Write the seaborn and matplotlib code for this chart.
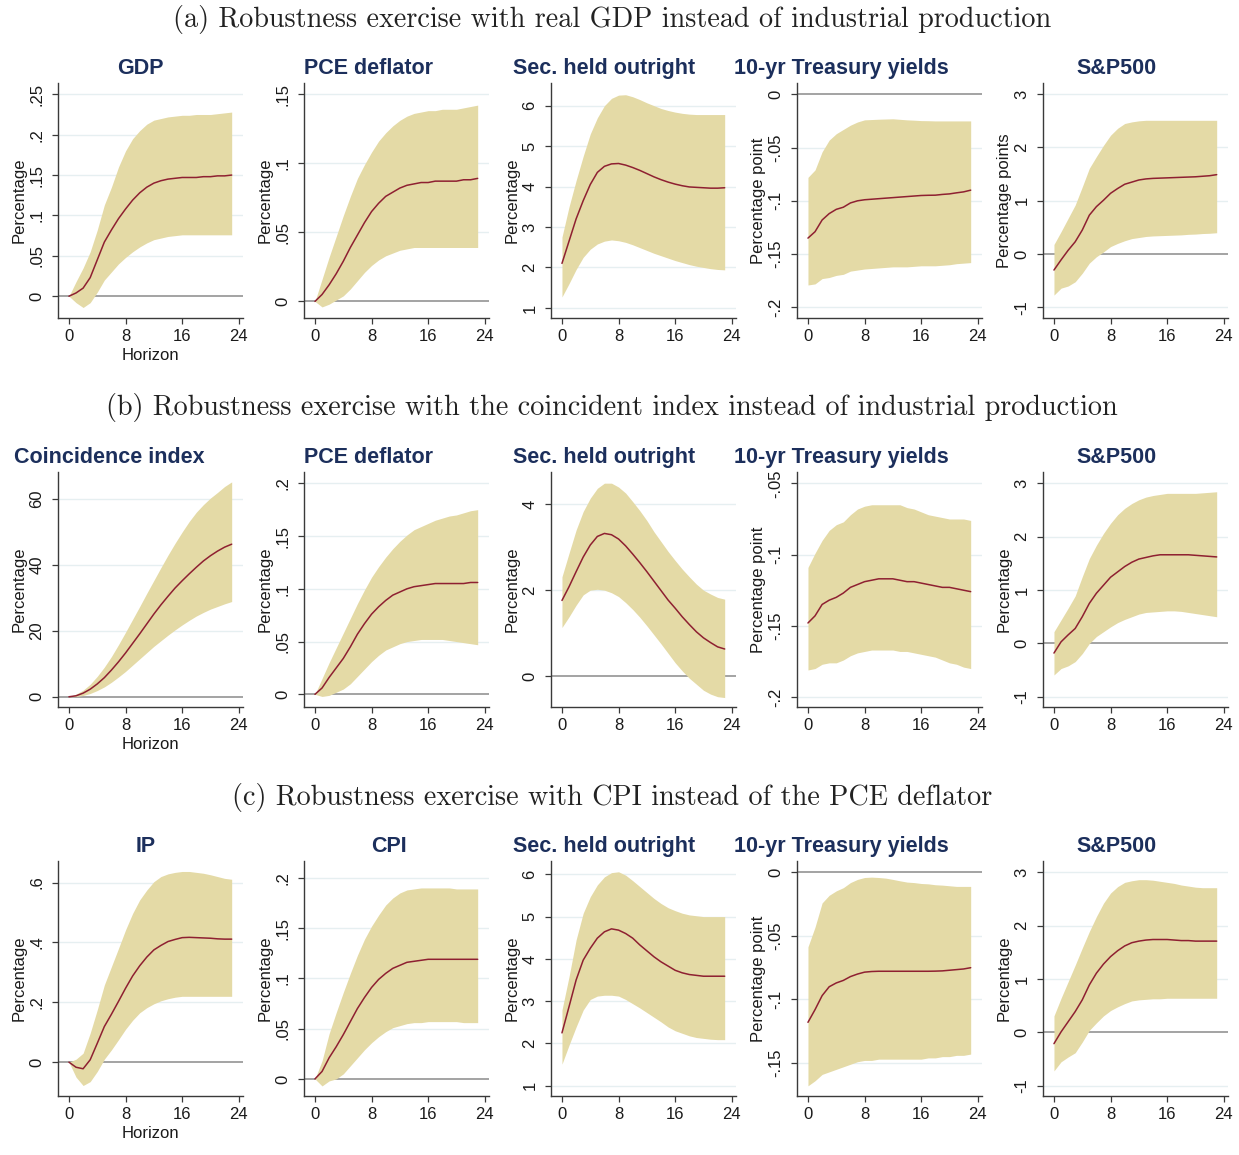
import matplotlib
matplotlib.use("Agg")
import matplotlib.pyplot as plt
import seaborn as sns
import pandas as pd

# ---------------- data ----------------
horizon = list(range(24))
x_ticks = [0, 8, 16, 24]

section_titles = [
    "(a) Robustness exercise with real GDP instead of industrial production",
    "(b) Robustness exercise with the coincident index instead of industrial production",
    "(c) Robustness exercise with CPI instead of the PCE deflator",
]
panel_titles = [
    ["GDP", "PCE deflator", "Sec. held outright", "10-yr Treasury yields", "S&P500"],
    ["Coincidence index", "PCE deflator", "Sec. held outright", "10-yr Treasury yields", "S&P500"],
    ["IP", "CPI", "Sec. held outright", "10-yr Treasury yields", "S&P500"],
]
y_titles = [
    ["Percentage", "Percentage", "Percentage", "Percentage point", "Percentage points"],
    ["Percentage", "Percentage", "Percentage", "Percentage point", "Percentage"],
    ["Percentage", "Percentage", "Percentage", "Percentage point", "Percentage"],
]
x_title = "Horizon"

# (a) row
a1_mid = [0, 0.004, 0.01, 0.023, 0.045, 0.067, 0.082, 0.096, 0.108, 0.119, 0.128, 0.135, 0.140, 0.143, 0.145, 0.146, 0.147, 0.147, 0.147, 0.148, 0.148, 0.149, 0.149, 0.150]
a1_hi = [0, 0.018, 0.035, 0.055, 0.082, 0.113, 0.135, 0.160, 0.180, 0.195, 0.205, 0.213, 0.218, 0.220, 0.222, 0.223, 0.224, 0.224, 0.225, 0.225, 0.225, 0.226, 0.227, 0.228]
a1_lo = [0, -0.008, -0.014, -0.008, 0.005, 0.020, 0.030, 0.040, 0.048, 0.055, 0.061, 0.066, 0.070, 0.072, 0.074, 0.075, 0.076, 0.076, 0.076, 0.076, 0.076, 0.076, 0.076, 0.076]

a2_mid = [0, 0.005, 0.012, 0.020, 0.029, 0.039, 0.048, 0.057, 0.065, 0.071, 0.076, 0.079, 0.082, 0.084, 0.085, 0.086, 0.086, 0.087, 0.087, 0.087, 0.087, 0.088, 0.088, 0.089]
a2_hi = [0, 0.016, 0.032, 0.047, 0.062, 0.076, 0.089, 0.099, 0.108, 0.116, 0.122, 0.127, 0.131, 0.134, 0.136, 0.137, 0.138, 0.138, 0.139, 0.139, 0.139, 0.140, 0.141, 0.142]
a2_lo = [0, -0.004, -0.002, 0.001, 0.004, 0.009, 0.015, 0.021, 0.026, 0.030, 0.033, 0.035, 0.037, 0.038, 0.039, 0.039, 0.039, 0.039, 0.039, 0.039, 0.039, 0.039, 0.039, 0.039]

a3_mid = [2.10, 2.65, 3.20, 3.65, 4.05, 4.35, 4.50, 4.56, 4.57, 4.53, 4.47, 4.40, 4.32, 4.24, 4.17, 4.11, 4.06, 4.02, 3.99, 3.98, 3.97, 3.96, 3.96, 3.97]
a3_hi = [2.75, 3.50, 4.15, 4.75, 5.30, 5.70, 6.00, 6.18, 6.26, 6.27, 6.22, 6.15, 6.07, 6.00, 5.93, 5.88, 5.84, 5.81, 5.79, 5.78, 5.78, 5.78, 5.78, 5.78]
a3_lo = [1.27, 1.60, 1.95, 2.25, 2.45, 2.58, 2.65, 2.68, 2.66, 2.62, 2.56, 2.49, 2.42, 2.35, 2.29, 2.23, 2.17, 2.12, 2.07, 2.03, 2.00, 1.97, 1.95, 1.94]

a4_mid = [-0.135, -0.129, -0.118, -0.112, -0.108, -0.106, -0.102, -0.100, -0.099, -0.0985, -0.098, -0.0975, -0.097, -0.0965, -0.096, -0.0955, -0.095, -0.0948, -0.0947, -0.094, -0.0935, -0.0925, -0.0916, -0.090]
a4_hi = [-0.078, -0.071, -0.054, -0.043, -0.037, -0.033, -0.029, -0.026, -0.024, -0.0237, -0.0234, -0.0232, -0.023, -0.0235, -0.024, -0.0243, -0.0247, -0.0248, -0.025, -0.025, -0.025, -0.025, -0.025, -0.025]
a4_lo = [-0.179, -0.178, -0.173, -0.172, -0.170, -0.169, -0.166, -0.165, -0.164, -0.1635, -0.163, -0.1625, -0.162, -0.162, -0.162, -0.1615, -0.161, -0.161, -0.161, -0.1605, -0.160, -0.159, -0.1585, -0.158]

a5_mid = [-0.30, -0.11, 0.07, 0.23, 0.45, 0.73, 0.89, 1.01, 1.14, 1.23, 1.31, 1.35, 1.39, 1.41, 1.42, 1.425, 1.43, 1.435, 1.44, 1.445, 1.45, 1.46, 1.47, 1.49]
a5_hi = [0.18, 0.42, 0.67, 0.92, 1.26, 1.61, 1.83, 2.04, 2.23, 2.36, 2.45, 2.48, 2.50, 2.51, 2.51, 2.51, 2.51, 2.51, 2.51, 2.51, 2.51, 2.51, 2.51, 2.51]
a5_lo = [-0.77, -0.64, -0.60, -0.52, -0.36, -0.17, -0.05, 0.04, 0.14, 0.20, 0.25, 0.29, 0.31, 0.33, 0.34, 0.345, 0.35, 0.355, 0.36, 0.37, 0.375, 0.385, 0.39, 0.40]

# (b) row
b1_mid = [0, 0.3, 1.1, 2.3, 3.9, 5.8, 8.1, 10.6, 13.3, 16.2, 19.1, 22.1, 25.1, 27.9, 30.5, 33.0, 35.2, 37.3, 39.3, 41.2, 42.8, 44.2, 45.4, 46.3]
b1_hi = [0, 0.8, 2.0, 3.8, 6.2, 9.0, 12.2, 15.8, 19.6, 23.5, 27.4, 31.4, 35.3, 39.2, 43.0, 46.6, 50.0, 53.2, 56.0, 58.3, 60.3, 62.0, 63.8, 65.2]
b1_lo = [0, 0.1, 0.4, 1.0, 1.9, 3.0, 4.4, 6.0, 7.7, 9.6, 11.5, 13.4, 15.3, 17.0, 18.7, 20.3, 21.8, 23.2, 24.5, 25.6, 26.6, 27.4, 28.2, 28.9]

b2_mid = [0, 0.006, 0.016, 0.025, 0.034, 0.045, 0.057, 0.067, 0.076, 0.083, 0.089, 0.094, 0.097, 0.100, 0.102, 0.103, 0.104, 0.105, 0.105, 0.105, 0.105, 0.105, 0.106, 0.106]
b2_hi = [0, 0.015, 0.030, 0.044, 0.058, 0.072, 0.086, 0.099, 0.111, 0.121, 0.130, 0.138, 0.145, 0.151, 0.156, 0.159, 0.162, 0.165, 0.167, 0.169, 0.170, 0.172, 0.174, 0.175]
b2_lo = [0, -0.002, -0.001, 0.002, 0.005, 0.010, 0.017, 0.024, 0.031, 0.037, 0.042, 0.045, 0.048, 0.050, 0.051, 0.052, 0.052, 0.052, 0.052, 0.051, 0.050, 0.049, 0.048, 0.047]

b3_mid = [1.76, 2.08, 2.43, 2.77, 3.05, 3.25, 3.32, 3.29, 3.19, 3.03, 2.84, 2.64, 2.43, 2.21, 1.99, 1.77, 1.58, 1.38, 1.20, 1.03, 0.89, 0.78, 0.68, 0.63]
b3_hi = [2.31, 2.86, 3.40, 3.83, 4.14, 4.37, 4.49, 4.49, 4.40, 4.26, 4.06, 3.85, 3.62, 3.36, 3.13, 2.90, 2.69, 2.49, 2.31, 2.14, 2.00, 1.91, 1.83, 1.79]
b3_lo = [1.13, 1.38, 1.65, 1.89, 2.00, 2.02, 2.00, 1.94, 1.85, 1.71, 1.55, 1.37, 1.17, 0.96, 0.75, 0.53, 0.31, 0.12, -0.05, -0.19, -0.33, -0.42, -0.48, -0.50]

b4_mid = [-0.148, -0.143, -0.135, -0.132, -0.130, -0.127, -0.123, -0.121, -0.119, -0.118, -0.117, -0.117, -0.117, -0.118, -0.119, -0.119, -0.120, -0.121, -0.122, -0.123, -0.123, -0.124, -0.125, -0.126]
b4_hi = [-0.109, -0.099, -0.090, -0.083, -0.079, -0.077, -0.072, -0.068, -0.066, -0.065, -0.065, -0.065, -0.065, -0.065, -0.067, -0.068, -0.070, -0.072, -0.073, -0.074, -0.075, -0.075, -0.075, -0.076]
b4_lo = [-0.181, -0.180, -0.177, -0.176, -0.176, -0.174, -0.171, -0.169, -0.168, -0.167, -0.167, -0.167, -0.167, -0.168, -0.168, -0.169, -0.170, -0.171, -0.172, -0.174, -0.176, -0.177, -0.179, -0.180]

b5_mid = [-0.18, 0.03, 0.16, 0.28, 0.50, 0.75, 0.94, 1.09, 1.24, 1.34, 1.44, 1.52, 1.58, 1.61, 1.64, 1.66, 1.66, 1.66, 1.66, 1.66, 1.65, 1.64, 1.63, 1.62]
b5_hi = [0.22, 0.44, 0.66, 0.89, 1.25, 1.59, 1.84, 2.06, 2.25, 2.41, 2.53, 2.62, 2.69, 2.74, 2.77, 2.79, 2.81, 2.81, 2.81, 2.81, 2.81, 2.82, 2.83, 2.84]
b5_lo = [-0.59, -0.47, -0.42, -0.34, -0.19, 0.00, 0.13, 0.22, 0.31, 0.39, 0.45, 0.50, 0.55, 0.58, 0.59, 0.60, 0.61, 0.61, 0.60, 0.58, 0.56, 0.54, 0.52, 0.50]

# (c) row
c1_mid = [0, -0.017, -0.022, 0.008, 0.063, 0.119, 0.160, 0.203, 0.247, 0.288, 0.322, 0.351, 0.375, 0.390, 0.403, 0.410, 0.416, 0.417, 0.416, 0.415, 0.414, 0.412, 0.411, 0.411]
c1_hi = [0, 0.010, 0.030, 0.097, 0.175, 0.258, 0.319, 0.380, 0.442, 0.497, 0.542, 0.575, 0.603, 0.620, 0.629, 0.634, 0.637, 0.637, 0.634, 0.631, 0.626, 0.620, 0.614, 0.611]
c1_lo = [0, -0.050, -0.078, -0.065, -0.031, 0.010, 0.041, 0.075, 0.110, 0.140, 0.165, 0.182, 0.195, 0.205, 0.212, 0.217, 0.220, 0.220, 0.220, 0.220, 0.220, 0.220, 0.220, 0.220]

c2_mid = [0, 0.0074, 0.021, 0.032, 0.044, 0.057, 0.070, 0.081, 0.091, 0.099, 0.105, 0.110, 0.113, 0.116, 0.117, 0.118, 0.119, 0.119, 0.119, 0.119, 0.119, 0.119, 0.119, 0.119]
c2_hi = [0, 0.018, 0.045, 0.066, 0.086, 0.105, 0.123, 0.139, 0.152, 0.163, 0.173, 0.180, 0.185, 0.188, 0.189, 0.190, 0.190, 0.190, 0.190, 0.190, 0.189, 0.189, 0.189, 0.189]
c2_lo = [0, -0.007, -0.002, 0.000, 0.005, 0.013, 0.021, 0.029, 0.036, 0.042, 0.047, 0.051, 0.053, 0.055, 0.056, 0.056, 0.057, 0.057, 0.057, 0.057, 0.057, 0.056, 0.056, 0.056]

c3_mid = [2.25, 2.87, 3.50, 3.97, 4.25, 4.49, 4.64, 4.71, 4.68, 4.60, 4.49, 4.33, 4.19, 4.05, 3.93, 3.83, 3.73, 3.67, 3.63, 3.61, 3.59, 3.59, 3.59, 3.59]
c3_hi = [2.79, 3.58, 4.45, 5.08, 5.47, 5.75, 5.94, 6.04, 6.06, 5.98, 5.85, 5.71, 5.57, 5.43, 5.31, 5.21, 5.14, 5.08, 5.04, 5.02, 5.00, 5.00, 5.00, 5.00]
c3_lo = [1.51, 1.96, 2.39, 2.79, 3.04, 3.12, 3.14, 3.14, 3.12, 3.04, 2.94, 2.84, 2.73, 2.62, 2.51, 2.39, 2.30, 2.24, 2.18, 2.14, 2.12, 2.10, 2.09, 2.09]

c4_mid = [-0.118, -0.108, -0.097, -0.090, -0.087, -0.085, -0.082, -0.080, -0.0785, -0.078, -0.0778, -0.0778, -0.0778, -0.0778, -0.0778, -0.0778, -0.0778, -0.0778, -0.0777, -0.0775, -0.077, -0.0765, -0.076, -0.075]
c4_hi = [-0.0586, -0.043, -0.024, -0.018, -0.0145, -0.012, -0.008, -0.0055, -0.004, -0.0037, -0.004, -0.0045, -0.0055, -0.0066, -0.0076, -0.008, -0.0087, -0.009, -0.0097, -0.010, -0.0105, -0.011, -0.011, -0.011]
c4_lo = [-0.168, -0.164, -0.159, -0.157, -0.155, -0.153, -0.151, -0.149, -0.148, -0.148, -0.147, -0.147, -0.147, -0.147, -0.147, -0.147, -0.147, -0.146, -0.146, -0.145, -0.145, -0.144, -0.144, -0.143]

c5_mid = [-0.21, 0.01, 0.20, 0.39, 0.61, 0.89, 1.11, 1.28, 1.42, 1.53, 1.62, 1.68, 1.71, 1.73, 1.74, 1.74, 1.74, 1.73, 1.72, 1.72, 1.71, 1.71, 1.71, 1.71]
c5_hi = [0.31, 0.64, 0.95, 1.26, 1.58, 1.89, 2.17, 2.42, 2.61, 2.73, 2.81, 2.84, 2.86, 2.86, 2.85, 2.83, 2.81, 2.79, 2.76, 2.74, 2.72, 2.71, 2.71, 2.71]
c5_lo = [-0.72, -0.55, -0.46, -0.38, -0.18, 0.04, 0.18, 0.31, 0.41, 0.48, 0.54, 0.59, 0.61, 0.62, 0.63, 0.63, 0.64, 0.64, 0.64, 0.64, 0.64, 0.64, 0.64, 0.64]

# y tick values and labels
yt_a = [
    ([0, 0.05, 0.1, 0.15, 0.2, 0.25], ["0", ".05", ".1", ".15", ".2", ".25"]),
    ([0, 0.05, 0.1, 0.15], ["0", ".05", ".1", ".15"]),
    ([1, 2, 3, 4, 5, 6], ["1", "2", "3", "4", "5", "6"]),
    ([-0.2, -0.15, -0.1, -0.05, 0], ["-.2", "-.15", "-.1", "-.05", "0"]),
    ([-1, 0, 1, 2, 3], ["-1", "0", "1", "2", "3"]),
]
yt_b = [
    ([0, 20, 40, 60], ["0", "20", "40", "60"]),
    ([0, 0.05, 0.1, 0.15, 0.2], ["0", ".05", ".1", ".15", ".2"]),
    ([0, 2, 4], ["0", "2", "4"]),
    ([-0.2, -0.15, -0.1, -0.05], ["-.2", "-.15", "-.1", "-.05"]),
    ([-1, 0, 1, 2, 3], ["-1", "0", "1", "2", "3"]),
]
yt_c = [
    ([0, 0.2, 0.4, 0.6], ["0", ".2", ".4", ".6"]),
    ([0, 0.05, 0.1, 0.15, 0.2], ["0", ".05", ".1", ".15", ".2"]),
    ([1, 2, 3, 4, 5, 6], ["1", "2", "3", "4", "5", "6"]),
    ([-0.15, -0.1, -0.05, 0], ["-.15", "-.1", "-.05", "0"]),
    ([-1, 0, 1, 2, 3], ["-1", "0", "1", "2", "3"]),
]

panels = [
    [(a1_mid, a1_lo, a1_hi), (a2_mid, a2_lo, a2_hi), (a3_mid, a3_lo, a3_hi), (a4_mid, a4_lo, a4_hi), (a5_mid, a5_lo, a5_hi)],
    [(b1_mid, b1_lo, b1_hi), (b2_mid, b2_lo, b2_hi), (b3_mid, b3_lo, b3_hi), (b4_mid, b4_lo, b4_hi), (b5_mid, b5_lo, b5_hi)],
    [(c1_mid, c1_lo, c1_hi), (c2_mid, c2_lo, c2_hi), (c3_mid, c3_lo, c3_hi), (c4_mid, c4_lo, c4_hi), (c5_mid, c5_lo, c5_hi)],
]
yticks = [yt_a, yt_b, yt_c]

# ---------------- layout / style ----------------
ylims = [
    [(-0.027, 0.264), (-0.012, 0.158), (0.75, 6.56), (-0.21, 0.0106), (-1.2, 3.21)],
    [(-3.1, 68.2), (-0.012, 0.2107), (-0.72, 4.75), (-0.207, -0.042), (-1.19, 3.21)],
    [(-0.113, 0.672), (-0.017, 0.2168), (0.757, 6.315), (-0.176, 0.009), (-1.19, 3.21)],
]
title_x = [
    [0.443, 0.351, 0.288, 0.24, 0.397],
    [0.28, 0.351, 0.288, 0.24, 0.397],
    [0.476, 0.459, 0.288, 0.24, 0.397],
]
W, H = 1239, 1155
col_left = [58, 304, 551, 797, 1043]
row_top = [83, 472, 861]
ax_w, ax_h = 185, 235
section_y = [19, 408, 797]

band_color = "#e4daa6"
line_color = "#8e2031"
grid_color = "#e6eff1"
zero_color = "#8a8a8a"
axis_color = "#3a3a3a"
title_color = "#1c2f5c"

sns.set_theme(style="white")
plt.rcParams["font.family"] = ["Liberation Sans", "DejaVu Sans"]

fig = plt.figure(figsize=(W / 100, H / 100), dpi=100)
fig.patch.set_facecolor("white")

for r in range(3):
    fig.text(0.494, 1 - section_y[r] / H, section_titles[r], ha="center", va="center",
             fontsize=20.3, family=["cmr10", "DejaVu Serif"], color="#222222")
    for c in range(5):
        mid, lo, hi = panels[r][c]
        df = pd.DataFrame({"h": horizon, "mid": mid, "lo": lo, "hi": hi})
        L = col_left[c]
        T = row_top[r]
        ax = fig.add_axes([L / W, 1 - (T + ax_h) / H, ax_w / W, ax_h / H])
        ticks, labels = yticks[r][c]
        ax.set_xlim(-1.55, 24.6)
        ax.set_ylim(*ylims[r][c])
        for t in ticks:
            if t == 0:
                ax.axhline(0, color=zero_color, lw=1.1, zorder=1)
            else:
                ax.axhline(t, color=grid_color, lw=1.0, zorder=0)
        if ylims[r][c][0] < 0 < ylims[r][c][1] and 0 not in ticks:
            ax.axhline(0, color=zero_color, lw=1.1, zorder=1)
        ax.fill_between(df["h"], df["lo"], df["hi"], color=band_color, lw=0, zorder=2)
        sns.lineplot(data=df, x="h", y="mid", ax=ax, color=line_color, lw=1.1, zorder=3)
        ax.set_xticks(x_ticks)
        ax.set_xticklabels([str(v) for v in x_ticks])
        ax.set_yticks(ticks)
        ax.set_yticklabels(labels, rotation=90, va="center")
        for s in ["top", "right"]:
            ax.spines[s].set_visible(False)
        for s in ["left", "bottom"]:
            ax.spines[s].set_color(axis_color)
            ax.spines[s].set_linewidth(1.0)
        ax.tick_params(axis="both", direction="out", length=4.3, width=0.9, color=axis_color,
                       labelsize=12, labelcolor="#1a1a1a", left=True, bottom=True)
        ax.tick_params(axis="x", pad=3.8)
        ax.tick_params(axis="y", pad=5.5)
        ax.set_ylabel(y_titles[r][c], fontsize=12, labelpad=2, color="#1a1a1a")
        if c == 0:
            ax.set_xlabel(x_title, fontsize=12, labelpad=2.5, color="#1a1a1a")
        else:
            ax.set_xlabel("")
        ax.set_title(panel_titles[r][c], x=title_x[r][c], pad=6.2, fontsize=15.5,
                     fontweight="bold", color=title_color)
        ax.grid(False)
        ax.set_facecolor("white")

fig.savefig("out.png", dpi=100, facecolor="white")
